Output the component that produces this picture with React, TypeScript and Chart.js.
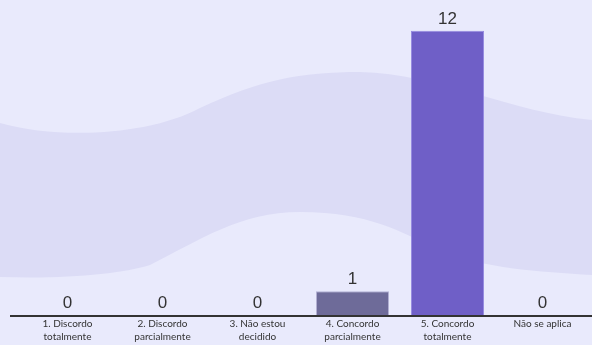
import React, { useEffect, useRef } from "react";
import { Chart, registerables } from "chart.js";

Chart.register(...registerables);

const categories: string[][] = [
  ["1. Discordo", "totalmente"],
  ["2. Discordo", "parcialmente"],
  ["3. Não estou", "decidido"],
  ["4. Concordo", "parcialmente"],
  ["5. Concordo", "totalmente"],
  ["Não se aplica"],
];
const counts: number[] = [0, 0, 0, 1, 12, 0];
const barColors: string[] = ["#6e6b99", "#6e6b99", "#6e6b99", "#6e6b99", "#6f5fc7", "#6e6b99"];
const barBorders: string[] = ["#b3b1d4", "#b3b1d4", "#b3b1d4", "#b3b1d4", "#9489e0", "#b3b1d4"];

const W = 592;
const H = 345;

const wavePlugin = {
  id: "waveBg",
  beforeDraw(chart: any) {
    const ctx = chart.ctx;
    const w = chart.width;
    const h = chart.height;
    const sx = w / W;
    const sy = h / H;
    ctx.save();
    ctx.fillStyle = "#e9eafc";
    ctx.fillRect(0, 0, w, h);
    ctx.beginPath();
    ctx.moveTo(0, 123 * sy);
    ctx.bezierCurveTo(60 * sx, 140 * sy, 150 * sx, 135 * sy, 200 * sx, 108 * sy);
    ctx.bezierCurveTo(260 * sx, 80 * sy, 300 * sx, 72 * sy, 360 * sx, 72 * sy);
    ctx.bezierCurveTo(440 * sx, 74 * sy, 510 * sx, 112 * sy, 592 * sx, 120 * sy);
    ctx.lineTo(592 * sx, 275 * sy);
    ctx.bezierCurveTo(540 * sx, 272 * sy, 480 * sx, 268 * sy, 440 * sx, 250 * sy);
    ctx.bezierCurveTo(400 * sx, 232 * sy, 370 * sx, 212 * sy, 300 * sx, 212 * sy);
    ctx.bezierCurveTo(240 * sx, 212 * sy, 200 * sx, 240 * sy, 150 * sx, 265 * sy);
    ctx.bezierCurveTo(120 * sx, 274 * sy, 70 * sx, 279 * sy, 0, 277 * sy);
    ctx.closePath();
    ctx.fillStyle = "#dcdcf6";
    ctx.fill();
    ctx.restore();
  },
  afterDraw(chart: any) {
    const ctx = chart.ctx;
    const area = chart.chartArea;
    const xScale = chart.scales.x;
    ctx.save();
    ctx.strokeStyle = "#333333";
    ctx.lineWidth = 2;
    ctx.beginPath();
    ctx.moveTo(area.left - 10, area.bottom + 1);
    ctx.lineTo(chart.width, area.bottom + 1);
    ctx.stroke();
    ctx.fillStyle = "#333333";
    ctx.font = "10px Lato, 'Noto Sans', sans-serif";
    ctx.textAlign = "center";
    ctx.textBaseline = "middle";
    categories.forEach((lines, i) => {
      const x = xScale.getPixelForValue(i);
      lines.forEach((line, j) => {
        ctx.fillText(line, x, area.bottom + 9 + j * 13);
      });
    });
    ctx.restore();
  },
  afterDatasetsDraw(chart: any) {
    const ctx = chart.ctx;
    const meta = chart.getDatasetMeta(0);
    const data = chart.data.datasets[0].data;
    ctx.save();
    ctx.fillStyle = "#333333";
    ctx.font = "17px 'Liberation Sans', Arial, sans-serif";
    ctx.textAlign = "center";
    ctx.textBaseline = "alphabetic";
    meta.data.forEach((el: any, i: number) => {
      ctx.fillText(String(data[i]), el.x, el.y - 7);
    });
    ctx.restore();
  },
};

export default function App() {
  const ref = useRef<HTMLCanvasElement | null>(null);
  useEffect(() => {
    if (!ref.current) return;
    const chart = new Chart(ref.current, {
      type: "bar",
      data: {
        labels: categories,
        datasets: [
          {
            data: counts,
            backgroundColor: barColors,
            borderColor: barBorders,
            borderWidth: 1,
            barPercentage: 0.77,
            categoryPercentage: 1,
          },
        ],
      },
      options: {
        animation: false,
        responsive: true,
        maintainAspectRatio: false,
        layout: { padding: { top: 7, left: 20, right: 2, bottom: 30 } },
        plugins: { legend: { display: false }, tooltip: { enabled: false } },
        scales: {
          x: { display: false },
          y: { display: false, min: 0, max: 13 },
        },
      },
      plugins: [wavePlugin],
    });
    return () => chart.destroy();
  }, []);
  return (
    <div style={{ position: "absolute", left: 0, top: 0, width: W, height: H }}>
      <canvas ref={ref} />
    </div>
  );
}
